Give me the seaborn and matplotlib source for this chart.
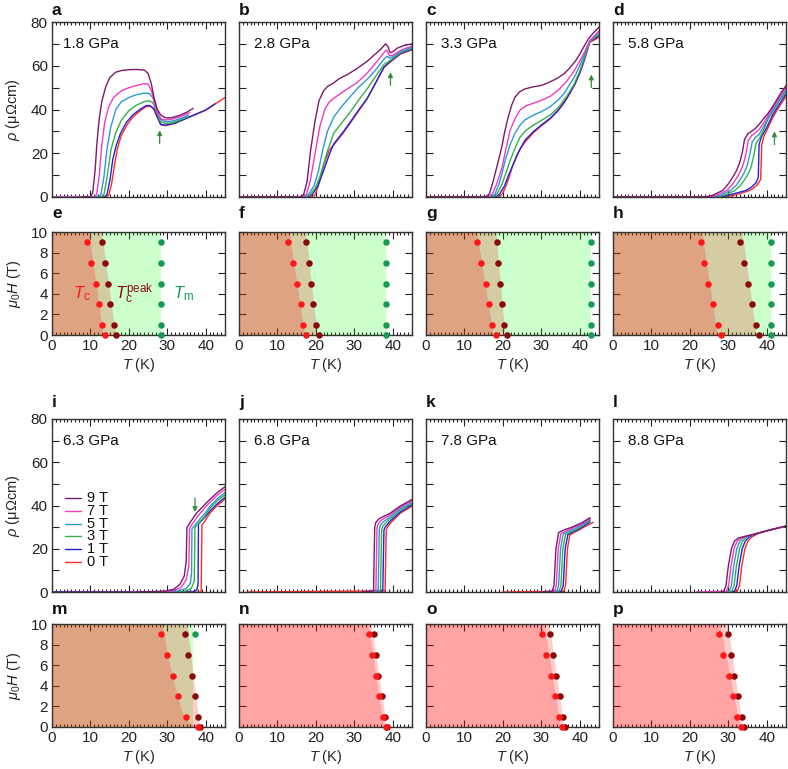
import numpy as np
import pandas as pd
import seaborn as sns
import matplotlib
matplotlib.use("Agg")
import matplotlib.pyplot as plt
from matplotlib.ticker import MultipleLocator, FuncFormatter

# ---------------- data ----------------
FIELDS = [0, 1, 3, 5, 7, 9]
FIELD_LABELS = ["0 T", "1 T", "3 T", "5 T", "7 T", "9 T"]
FIELD_COLORS = ["#ff2a2a", "#2323d6", "#35b04a", "#2b9bd3", "#f03cc4", "#7d1a6c"]

# panel a: 1.8 GPa   (lists ordered as FIELDS)
T_a = [
    [0, 14, 14.8, 15.5, 16.3, 17, 18, 19.5, 21, 23, 24.5, 25.5, 26.5, 27.5, 28.3, 29.5, 32, 36, 40, 45],
    [0, 13.6, 14.3, 15.1, 15.8, 16.7, 17.8, 19.3, 21, 23, 24.5, 25.5, 26.5, 27.5, 28.3, 29.5, 32, 36, 40, 42.4],
    [0, 12.8, 13.5, 14.3, 15.4, 16.5, 18, 20, 22, 24, 25.3, 26.3, 27.3, 28.2, 29.5, 31, 33, 35.5],
    [0, 12.0, 12.7, 13.5, 14.3, 15.3, 16.6, 18, 20, 22, 24, 25.3, 26.2, 27.2, 28.2, 29.5, 31, 33, 35.5],
    [0, 11.0, 11.6, 12.3, 12.9, 13.7, 14.7, 16, 18, 20, 22, 24, 25, 25.9, 26.8, 27.7, 28.5, 29.5, 31, 33, 35.8],
    [8, 10.0, 10.6, 11.2, 11.7, 12.3, 13, 14, 15, 16.5, 18, 20, 22, 24, 25, 25.8, 26.6, 27.4, 28.3, 29.5, 31, 33, 35, 36.7],
]
R_a = [
    [0, 0, 1, 6, 15, 22, 28, 33, 36.5, 39.5, 41.3, 41.5, 40.2, 36, 33, 32.6, 33.7, 36.7, 39.7, 45.5],
    [0, 0, 1, 8, 17, 23.5, 29, 34, 37.5, 40.2, 41.8, 41.8, 40.4, 36.2, 33.2, 32.8, 33.8, 36.8, 39.8, 42.6],
    [0, 0, 1, 9, 22, 29, 35, 39.5, 42, 43.6, 44, 43, 38.5, 34.5, 33.6, 33.8, 35, 36.8],
    [0, 0, 1, 9, 22, 32, 40, 43.5, 45.5, 46.8, 47.5, 47.3, 45.5, 40, 35.5, 34.4, 34.6, 35.6, 37.4],
    [0, 0, 1, 10, 23, 34, 41, 45.5, 48.5, 50, 51, 51.8, 51.6, 48.5, 42, 37.5, 35.6, 35.2, 35.5, 36.5, 38.5],
    [0, 0, 2, 12, 25, 36, 44, 50.5, 54.5, 57, 57.8, 58.2, 58.3, 58, 56.5, 52, 45, 40, 37.5, 36.2, 36.2, 37.2, 38.7, 40.5],
]

# panel b: 2.8 GPa
T_b = [
    [0, 19, 19.8, 20.6, 21.5, 22.5, 23.5, 24.7, 27, 29, 31, 33.3, 35.5, 37.7, 39.4, 42, 45],
    [0, 18, 19, 20.5, 22, 23.5, 24.7, 27, 29, 31, 33.3, 35.5, 37.7, 39.4, 42, 45],
    [0, 17.5, 18.5, 19.8, 21, 22, 23, 24.7, 27, 29, 31, 33.3, 35.5, 37.7, 39.4, 42, 45],
    [0, 17, 18, 19.5, 20.7, 21.7, 23, 24.7, 27, 29, 31, 33.3, 35.5, 37.7, 38.5, 39.2, 40, 42, 45],
    [0, 16.5, 17.5, 18.5, 19.9, 21, 22.3, 23.5, 24.7, 27, 30.7, 33, 35, 37.7, 38.4, 39.2, 40, 42, 45],
    [0, 15.8, 16.8, 17.7, 18.6, 19.8, 20.8, 22, 23, 24.5, 26, 28.2, 30.5, 33.3, 36.9, 38.1, 38.7, 39.3, 40, 41.1, 43, 45],
]
R_b = [
    [0, 0, 1, 5, 11, 17, 21.5, 24, 29, 34, 39, 44.8, 52, 59.2, 61.8, 65.4, 67.3],
    [0, 0, 1, 5, 12, 19.5, 24.4, 29.5, 34.4, 39.5, 45, 52, 59.4, 62, 65.6, 67.5],
    [0, 0, 1, 4, 9, 15, 21, 29.3, 34.5, 39, 44, 49.4, 55, 60.6, 62.5, 66, 68],
    [0, 0, 1, 5, 12, 21, 30, 36.7, 42, 46, 50, 53.7, 58, 63, 64.3, 63.5, 64, 66.5, 68.5],
    [0, 0, 1, 7, 21, 32, 40, 43.5, 45.2, 48, 52.3, 56, 60, 66, 67.2, 64.5, 64.8, 67, 69],
    [0, 0, 1, 7, 21, 35, 44, 48.5, 50.5, 52, 54, 56, 58.5, 62, 67.6, 70, 69, 66, 66.3, 68, 69.3, 70],
]

# panel c: 3.3 GPa
T_c = [
    [0, 19, 19.9, 20.8, 21.6, 22.5, 23.5, 24.5, 25.7, 28, 30, 32.3, 34.4, 36, 37.4, 38.8, 40, 41.3, 42.6, 44, 45],
    [0, 18.2, 19.2, 20.4, 21.5, 22.7, 24.2, 25.7, 28, 30, 32.3, 34.4, 36, 37.4, 38.8, 40, 41.3, 42.6, 44, 45],
    [0, 17.5, 18.5, 19.7, 20.8, 21.9, 23.2, 24.5, 26, 28, 30, 32.3, 34.5, 36.6, 38.5, 40, 41.3, 42.6, 44, 45],
    [0, 17, 18, 19.2, 20.6, 21.8, 23.1, 24.4, 25.7, 28, 30, 32.3, 34.4, 36, 37.4, 38.8, 40, 41.3, 42.6, 44, 45],
    [0, 16.3, 17.3, 18.4, 19.7, 20.8, 21.9, 23.2, 24.5, 26, 28, 30, 32.3, 34.5, 36.6, 38.5, 40, 41.3, 42.6, 44, 45],
    [0, 15.5, 16.5, 17.5, 18.6, 19.7, 20.5, 21.4, 22.3, 23.1, 24.3, 25.7, 28, 30, 32, 34.4, 36, 37.4, 38.8, 40, 41, 42.2, 43.5, 45],
]
R_c = [
    [0, 0, 1.5, 5, 9, 14, 18.5, 22, 25, 29.5, 32.5, 35.7, 39.5, 43.2, 47.2, 51.7, 56.5, 63, 70.8, 72, 73],
    [0, 0, 1.5, 5, 10, 15, 21, 25.9, 30, 32.9, 36, 39.8, 43.5, 47.5, 52, 56.8, 63.5, 71, 72.6, 73.8],
    [0, 0, 1.5, 5.5, 11, 16.7, 22.5, 27.5, 30.5, 32.9, 35, 37.5, 41, 46, 51.5, 57.5, 64, 71, 73.2, 74.5],
    [0, 0, 1.5, 7, 16.7, 23.5, 29, 32.7, 35.2, 37.5, 39, 41.3, 44.4, 47.5, 51.5, 55.5, 60, 65.5, 71.4, 74, 75.3],
    [0, 0, 1.5, 6, 13, 22, 30.6, 36, 39.8, 41.7, 42.9, 44.2, 46, 49, 52.9, 57.5, 62.2, 66.5, 71.4, 74, 76],
    [0, 0, 1.5, 7.4, 15, 22.8, 30, 36.7, 42, 45.5, 48, 49.4, 50.4, 51, 52.4, 54.5, 56.5, 59, 62, 65.3, 68.5, 72.2, 75, 77.6],
]

# panel d: 5.8 GPa
T_d = [
    [3, 29, 31, 33.5, 35.5, 36.4, 37.5, 38.4, 38.7, 39.2, 40, 41.6, 43.3, 45],
    [0, 28, 30, 32.5, 34.6, 36, 37.2, 37.8, 38.0, 38.6, 39.6, 41.6, 43.3, 45],
    [0, 27, 29, 31.6, 33, 34.2, 35.1, 35.9, 36.6, 37.2, 38.1, 39, 40.3, 41.6, 43.3, 45],
    [0, 26, 28, 30.6, 32, 33.2, 34.1, 34.9, 35.6, 36.2, 37.1, 38, 39, 40.3, 41.6, 43.3, 45],
    [0, 25, 27, 29.6, 31, 32.2, 33.1, 33.9, 34.6, 35.2, 36.1, 37, 38, 39, 40.3, 41.6, 43.3, 45],
    [0, 24, 26, 28.6, 30, 31.2, 32.1, 32.9, 33.6, 34.2, 35.1, 36, 37, 38, 39, 40.3, 41.6, 43.3, 45],
]
R_d = [
    [0, 0, 0.6, 1.8, 3, 3.9, 5.5, 8, 24, 27.5, 30.5, 36.5, 41.5, 46],
    [0, 0, 0.8, 2, 3, 4.5, 6.5, 9, 24, 27.5, 30.5, 37.7, 42.5, 47.2],
    [0, 0, 0.8, 2.8, 5, 7.8, 10.4, 13.5, 18.8, 24.5, 26.8, 30, 35.5, 39, 44, 48.3],
    [0, 0, 0.8, 3, 5.2, 8.3, 11, 14.3, 19.5, 25.2, 27.3, 28.6, 31.6, 36, 39.6, 44.6, 49],
    [0, 0, 0.8, 3, 5.6, 8.8, 11.6, 15, 20, 25.8, 28.2, 29.3, 30.8, 33.3, 37, 40.6, 45.5, 50],
    [0, 0, 0.8, 3.1, 6, 9.2, 12, 15.4, 20, 26.2, 29, 30, 31.3, 33.2, 35.4, 38.2, 41.5, 46.5, 51],
]

# panel i: 6.3 GPa
T_i = [
    [0, 38.8, 39.0, 39.6, 40.5, 41.1, 43, 45],
    [0, 36.5, 37.7, 38.0, 38.1, 38.8, 40, 41.1, 43, 45],
    [25, 34, 36.2, 37.0, 37.2, 38, 39.5, 41.1, 43, 45],
    [25, 32, 34.8, 36.0, 36.3, 36.4, 37.2, 38.5, 40, 41.1, 43, 45],
    [21, 31, 33.5, 34.9, 35.6, 35.8, 36.5, 38, 39.5, 41.1, 43, 45],
    [22, 29, 31.6, 33.3, 34.4, 34.9, 35.1, 35.9, 37.7, 39.5, 41.1, 43, 45],
]
R_i = [
    [0, 0, 31, 32.3, 34.8, 36.5, 40, 43],
    [0, 0, 1, 4, 31.5, 32.8, 35, 37.5, 40.8, 43.8],
    [0, 0, 1.5, 5, 30, 31.5, 34.5, 38.8, 42.2, 45],
    [0, 0.2, 1.5, 4, 9, 29.2, 31, 33.8, 36.8, 39.7, 43.2, 46],
    [0, 0.3, 2, 5.5, 12, 29.5, 31.5, 35.2, 38.4, 41.5, 44.8, 47.5],
    [0, 0.3, 1.2, 3.6, 7.4, 14, 29.8, 32.1, 36.7, 40, 42.9, 46, 48.7],
]

# panel j: 6.8 GPa
T_j = [
    [2, 38.0, 38.3, 38.6, 39.2, 42, 45],
    [32, 37.4, 37.7, 38, 38.6, 39.2, 42, 45],
    [32, 36.8, 37.1, 37.4, 38, 39.2, 42, 45],
    [32, 36.2, 36.5, 36.8, 37.5, 39.2, 42, 45],
    [32, 35.6, 35.9, 36.2, 37, 39.2, 42, 45],
    [32, 35.0, 35.3, 35.6, 36.5, 39.2, 42, 45],
]
R_j = [
    [0, 0.5, 28.5, 30, 31.5, 36.5, 39.7],
    [0, 0.5, 28.5, 30, 31.2, 32.6, 37, 40.3],
    [0, 0.5, 28.5, 30.5, 31.6, 33.7, 37.8, 41],
    [0, 0.5, 29, 31, 32.4, 34.6, 38.5, 41.5],
    [0, 0.5, 29.5, 31.5, 33.2, 35.5, 39.2, 42.2],
    [0, 0.5, 30, 32.2, 34, 36.3, 39.8, 42.8],
]

# panel k: 7.8 GPa
T_k = [
    [20, 35.8, 36.3, 36.8, 37.4, 38.5, 40, 41.5, 43.5],
    [30, 35.2, 35.7, 36.2, 36.9, 38, 39.5, 41, 42.7],
    [30, 34.6, 35.1, 35.6, 36.3, 37.5, 39, 40.5, 42.7],
    [30, 34.0, 34.5, 35.0, 35.7, 37, 38.5, 40.5, 42.7],
    [30, 33.4, 33.9, 34.4, 35.1, 36.5, 38, 40.5, 42.7],
    [30, 32.8, 33.3, 33.8, 34.5, 36, 38, 40.5, 42.7],
]
R_k = [
    [0, 0.3, 3, 20, 26.3, 27.5, 28.9, 30.4, 32.2],
    [0, 0.3, 3, 20, 26.5, 27.6, 28.8, 30.4, 32.4],
    [0, 0.3, 3, 20, 26.6, 27.8, 28.8, 30.5, 33],
    [0, 0.3, 3, 20, 26.8, 28, 29, 31, 33.4],
    [0, 0.3, 3, 20, 27, 28.3, 29.4, 31.5, 33.9],
    [0, 0.3, 3, 20, 27.5, 28.8, 30, 32, 34.4],
]

# panel l: 8.8 GPa
T_l = [
    [29, 32.3, 32.9, 33.5, 34.3, 35.1, 36.1, 37, 38, 40, 45],
    [29, 31.6, 32.2, 32.8, 33.6, 34.4, 35.4, 36.2, 37.5, 40, 45],
    [29, 30.9, 31.5, 32.1, 32.9, 33.7, 34.7, 35.5, 37, 40, 45],
    [29, 30.2, 30.8, 31.4, 32.2, 33.0, 34.0, 35, 36.5, 40, 45],
    [21.7, 29.5, 30.1, 30.7, 31.5, 32.3, 33.3, 34.5, 36, 40, 45],
    [28, 28.8, 29.4, 30.0, 30.8, 31.6, 32.6, 34, 36, 40, 45],
]
R_l = [
    [0, 0.3, 3, 12, 20, 23.5, 25.5, 26.3, 27.2, 28.3, 30.5],
    [0, 0.3, 3, 12, 20, 23.5, 25.4, 26.2, 27, 28.3, 30.5],
    [0, 0.3, 3, 12, 20, 23.5, 25.3, 26, 26.8, 28.3, 30.5],
    [0, 0.3, 3, 12, 20, 23.5, 25.2, 25.8, 26.6, 28.3, 30.5],
    [0, 0.3, 3, 12, 20, 23.5, 25, 25.7, 26.4, 28.3, 30.5],
    [0, 0.3, 3, 12, 20, 23.5, 25, 25.6, 26.4, 28.3, 30.5],
]

PRESSURES = ["1.8 GPa", "2.8 GPa", "3.3 GPa", "5.8 GPa", "6.3 GPa", "6.8 GPa", "7.8 GPa", "8.8 GPa"]

# phase-diagram points (fields 0,1,3,5,7,9 T)
H_PTS = [0, 1, 3, 5, 7, 9]
TC_e = [13.9, 13.1, 12.1, 11.4, 10.2, 9.0]
TP_e = [16.7, 16.1, 15.2, 14.5, 13.9, 13.05]
TM_e = [28.3, 28.3, 28.3, 28.3, 28.3, 28.3]
TC_f = [17.5, 16.6, 16.0, 15.0, 14.0, 12.7]
TP_f = [20.8, 19.9, 19.3, 18.7, 18.1, 17.4]
TM_f = [38.3, 38.3, 38.3, 38.3, 38.3, 38.3]
TC_g = [18.2, 17.1, 16.3, 15.5, 14.2, 13.2]
TP_g = [21.0, 20.3, 19.7, 19.3, 18.8, 18.4]
TM_g = [42.8, 42.8, 42.8, 42.8, 42.8, 42.8]
TC_h = [28.0, 27.3, 26.0, 24.8, 23.7, 22.9]
TP_h = [37.9, 37.3, 36.2, 35.0, 34.1, 33.1]
TM_h = [41.0, 41.0, 41.0, 41.0, 41.0, 41.0]
TC_m = [38.1, 34.9, 32.7, 31.4, 30.0, 28.3]
TP_m = [38.6, 37.9, 37.1, 36.3, 35.4, 34.7]
H_TM_m = [9]
TM_m = [37.1]
TC_n = [38.2, 37.5, 36.5, 35.6, 34.7, 33.8]
TP_n = [38.4, 38.1, 37.1, 36.1, 35.6, 35.0]
TC_o = [35.5, 34.6, 33.6, 32.4, 31.3, 30.3]
TP_o = [36.1, 35.6, 34.8, 33.9, 33.1, 32.3]
TC_p = [33.2, 32.2, 31.1, 30.1, 28.5, 27.5]
TP_p = [34.1, 33.5, 32.5, 31.5, 30.8, 29.8]

# shaded phase boundaries (edge T at the listed fields)
H_EDGE = [0, 10]
H_EDGE_m = [0, 0.5, 1, 3, 5, 7, 10]
SC_EDGE = {"e": [13.3, 9.6], "f": [17.0, 13.1], "g": [17.5, 13.2], "h": [27.1, 23.1],
           "m": [37.3, 35.6, 34.3, 32.6, 31.3, 30.0, 28.7],
           "n": [37.6, 33.6], "o": [35.0, 30.7], "p": [33.0, 27.8]}
PK_EDGE = {"e": [16.5, 12.9], "f": [20.3, 17.4], "g": [20.5, 18.2], "h": [37.3, 33.6],
           "m": [38.4, 35.1], "n": [38.4, 34.4], "o": [35.9, 32.0], "p": [33.7, 29.8]}
TM_EDGE = {"e": 28.3, "f": 38.3, "g": 42.8, "h": 41.0, "m": 36.8}

# ---------------- style ----------------
sns.set_theme(style="ticks")
plt.rcParams["font.family"] = ["Liberation Sans", "DejaVu Sans"]
plt.rcParams["mathtext.fontset"] = "custom"
plt.rcParams["mathtext.rm"] = "Liberation Sans"
plt.rcParams["mathtext.it"] = "Liberation Sans:italic"
plt.rcParams["mathtext.bf"] = "Liberation Sans:bold"
plt.rcParams["axes.linewidth"] = 1.0
plt.rcParams["axes.edgecolor"] = "#333333"

FS_TICK = 11
FS_LAB = 10.5
FS_LET = 12.5
W, Hfig = 788, 769
LEFTS = [52, 239, 426, 613]
PW = 173
ROWS = [(22, 197), (232, 335), (419, 592), (624, 727)]
LET_OFF = [4, 11, 9, 7]

fig = plt.figure(figsize=(W / 100, Hfig / 100), dpi=100)


def new_ax(col, row):
    top, bot = ROWS[row]
    return fig.add_axes([LEFTS[col] / W, 1 - bot / Hfig, PW / W, (bot - top) / Hfig])


def common_ticks(ax):
    ax.tick_params(which="both", direction="in", top=True, right=True,
                   colors="#222222", labelsize=FS_TICK, width=0.8, pad=3)
    ax.tick_params(which="major", length=5)
    ax.tick_params(which="minor", length=2.5)
    ax.xaxis.set_major_locator(MultipleLocator(10))
    ax.xaxis.set_minor_locator(MultipleLocator(1))
    for s in ax.spines.values():
        s.set_visible(True)


def letter(ax, row, s):
    top, bot = ROWS[row]
    h = bot - top
    ax.text(0.0, 1 + LET_OFF[row] / h, s, transform=ax.transAxes, ha="left", va="bottom",
            fontsize=FS_LET, fontweight="bold", color="#111111")


def make_df(Ts, Rs):
    rows = []
    for f, T, R in zip(FIELDS, Ts, Rs):
        for t, r in zip(T, R):
            rows.append((f, t, r))
    return pd.DataFrame(rows, columns=["field", "T", "rho"])


pal = dict(zip(FIELDS, FIELD_COLORS))
ARROW_C = "#2f8f3a"
rho_panels = [
    ("a", T_a, R_a, (28.0, 24.5, 30.5)),
    ("b", T_b, R_b, (39.4, 51.0, 57.0)),
    ("c", T_c, R_c, (43.0, 50.0, 56.0)),
    ("d", T_d, R_d, (42.0, 24.0, 30.0)),
    ("i", T_i, R_i, (37.2, 43.5, 37.0)),
    ("j", T_j, R_j, None),
    ("k", T_k, R_k, None),
    ("l", T_l, R_l, None),
]

for idx, (let, Ts, Rs, arr) in enumerate(rho_panels):
    col = idx % 4
    row = 0 if idx < 4 else 2
    ax = new_ax(col, row)
    df = make_df(Ts, Rs)
    sns.lineplot(data=df, x="T", y="rho", hue="field", hue_order=FIELDS, palette=pal,
                 estimator=None, sort=False, legend=False, lw=1.0, ax=ax)
    ax.set_xlim(0, 45)
    ax.set_ylim(0, 80)
    common_ticks(ax)
    ax.yaxis.set_major_locator(MultipleLocator(10))
    ax.xaxis.set_major_formatter(FuncFormatter(lambda v, p: ""))
    if col == 0:
        ax.yaxis.set_major_formatter(FuncFormatter(lambda v, p: f"{int(v)}" if int(round(v)) % 20 == 0 else ""))
        ax.set_ylabel(r"$\rho$ (μΩcm)", fontsize=FS_LAB)
        ax.yaxis.set_label_coords(-0.175, 0.5)
    else:
        ax.yaxis.set_major_formatter(FuncFormatter(lambda v, p: ""))
        ax.set_ylabel("")
    ax.set_xlabel("")
    ax.text(0.085 if col else 0.065, 0.875, PRESSURES[idx], transform=ax.transAxes,
            ha="left", va="center", fontsize=11, color="#111111")
    if arr is not None:
        t0, y0, y1 = arr
        ax.annotate("", xy=(t0, y1), xytext=(t0, y0),
                    arrowprops=dict(arrowstyle="-|>", color=ARROW_C, lw=0.9,
                                    mutation_scale=7, shrinkA=0, shrinkB=0))
    letter(ax, row, let)
    if let == "i":
        for k, (lab, c) in enumerate(zip(FIELD_LABELS[::-1], FIELD_COLORS[::-1])):
            yy = 0.543 - k * 0.074
            ax.plot([0.075, 0.165], [yy, yy], color=c, lw=1.0, transform=ax.transAxes)
            ax.text(0.2, yy, lab, transform=ax.transAxes, ha="left", va="center",
                    fontsize=10.5, color="#111111")

# ---------------- phase diagrams ----------------
TC_COL = "#ff1717"
TP_COL = "#8a0b0b"
TM_COL = "#179a55"
phase_panels = [
    ("e", TC_e, TP_e, H_PTS, TM_e),
    ("f", TC_f, TP_f, H_PTS, TM_f),
    ("g", TC_g, TP_g, H_PTS, TM_g),
    ("h", TC_h, TP_h, H_PTS, TM_h),
    ("m", TC_m, TP_m, H_TM_m, TM_m),
    ("n", TC_n, TP_n, None, None),
    ("o", TC_o, TP_o, None, None),
    ("p", TC_p, TP_p, None, None),
]
for idx, (let, tc, tp, htm, tm) in enumerate(phase_panels):
    col = idx % 4
    row = 1 if idx < 4 else 3
    ax = new_ax(col, row)
    hsc = H_EDGE_m if let == "m" else H_EDGE
    if let in TM_EDGE:
        ax.fill_betweenx(H_EDGE, 0, [TM_EDGE[let]] * 2, color="#00ff00", alpha=0.2, lw=0, zorder=1)
    ax.fill_betweenx(H_EDGE, 0, PK_EDGE[let], color="#ff0000", alpha=0.2, lw=0, zorder=1)
    ax.fill_betweenx(hsc, 0, SC_EDGE[let], color="#ff0000", alpha=0.2, lw=0, zorder=1)
    if tm is not None:
        sns.scatterplot(x=tm, y=htm, color=TM_COL, s=22, linewidth=0, ax=ax, clip_on=False, zorder=4)
    sns.scatterplot(x=tp, y=H_PTS, color=TP_COL, s=22, linewidth=0, ax=ax, clip_on=False, zorder=4)
    sns.scatterplot(x=tc, y=H_PTS, color=TC_COL, s=22, linewidth=0, ax=ax, clip_on=False, zorder=5)
    ax.set_xlim(0, 45)
    ax.set_ylim(0, 10)
    common_ticks(ax)
    ax.yaxis.set_major_locator(MultipleLocator(2))
    ax.set_xlabel(r"$T$ (K)", fontsize=FS_LAB, labelpad=2)
    if col == 0:
        ax.set_ylabel(r"$\mu_0H$ (T)", fontsize=FS_LAB)
        ax.yaxis.set_label_coords(-0.17, 0.5)
    else:
        ax.yaxis.set_major_formatter(FuncFormatter(lambda v, p: ""))
        ax.set_ylabel("")
    letter(ax, row, let)
    if let == "e":
        ax.text(5.5, 4.0, r"$T_\mathrm{c}$", color=TC_COL, fontsize=12, ha="left", va="center")
        ax.text(16.3, 4.0, r"$T_\mathrm{c}^\mathrm{peak}$", color=TP_COL, fontsize=12, ha="left", va="center")
        ax.text(31.5, 4.0, r"$T_\mathrm{m}$", color=TM_COL, fontsize=12, ha="left", va="center")

fig.savefig("out.png", dpi=100)
